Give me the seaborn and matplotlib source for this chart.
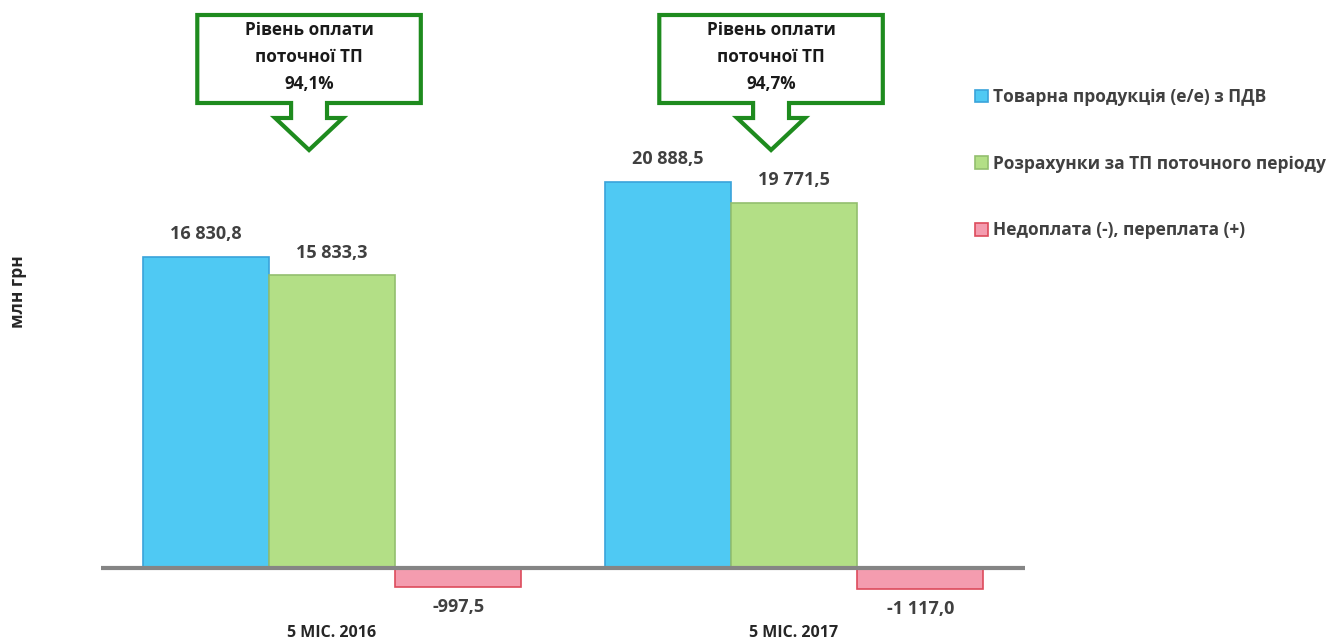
import pandas as pd
import numpy as np
import matplotlib.pyplot as plt
import seaborn as sns
from matplotlib.patches import Polygon, Patch
from matplotlib.transforms import blended_transform_factory

## Data
periods = ['5 МІС. 2016', '5 МІС. 2017']
series = ['Товарна продукція (е/е) з ПДВ',
          'Розрахунки за ТП поточного періоду',
          'Недоплата (-), переплата (+)']
commodity = [16830.8, 20888.5]
payments = [15833.3, 19771.5]
balance = [-997.5, -1117.0]
pay_level = ['94,1%', '94,7%']

colors = ['#4FC9F3', '#B3DF86', '#F49CAF']
edges = ['#3AA3DA', '#93BF6E', '#DD4B5C']
txt = '#404040'

sns.set_style('white')
plt.rcParams['font.family'] = ['Open Sans', 'DejaVu Sans']

df = pd.DataFrame({
    'period': periods * 3,
    'series': [series[0]] * 2 + [series[1]] * 2 + [series[2]] * 2,
    'value': commodity + payments + balance,
})

W, H = 1333, 642
fig = plt.figure(figsize=(W / 100, H / 100), dpi=100)
ax = fig.add_axes([101 / W, 1 - 618 / H, 924 / W, 598 / H])

sns.barplot(data=df, x='period', y='value', hue='series', hue_order=series,
            palette=colors, saturation=1, width=0.82, ax=ax, legend=False,
            linewidth=1.2)

def fmt(v):
    return f'{v:,.1f}'.replace(',', ' ').replace('.', ',')

for i, cont in enumerate(ax.containers):
    for bar in cont:
        bar.set_edgecolor(edges[i])
    vals = [commodity, payments, balance][i]
    ax.bar_label(cont, labels=[fmt(v) for v in vals], padding=10 if i < 2 else 8,
                 fontsize=13, fontweight='bold', color=txt)

ax.set_xlim(-0.5, 1.5)
ax.set_ylim(-2700, 29650)
ax.axhline(0, color='#858585', lw=3, zorder=5)
sns.despine(ax=ax, left=True, bottom=True)
ax.set_yticks([])
ax.tick_params(axis='x', length=0, pad=5)
ax.set_xticks(range(len(periods)))
ax.set_xticklabels(periods, fontsize=11.5, fontweight='bold', color='#262626')
ax.set_xlabel('')
ax.set_ylabel('')
fig.text(18 / W, 1 - 292 / H, 'млн грн', rotation=90, ha='center', va='center',
         fontsize=12.5, fontweight='bold', color='#262626')

## Callouts
tr = blended_transform_factory(ax.transData, fig.transFigure)
px = 1 / 463.0  # data units per pixel on x
shape = [(-112, 15), (112, 15), (112, 103), (18, 103), (18, 118), (34, 118),
         (0, 150), (-34, 118), (-18, 118), (-18, 103), (-112, 103)]
for i, lvl in enumerate(pay_level):
    cx = i - 23 * px
    pts = [(cx + x * px, 1 - y / H) for x, y in shape]
    fig.patches.append(Polygon(pts, closed=True, transform=tr, facecolor='white',
                               edgecolor='#1E8B1E', lw=3, joinstyle='miter'))
    fig.text(cx, 1 - 57 / H, f'Рівень оплати\nпоточної ТП\n{lvl}', transform=tr,
             ha='center', va='center', fontsize=12.3, fontweight='bold',
             color='#1a1a1a', linespacing=1.65)

## Legend
handles = [Patch(facecolor=c, edgecolor=e, lw=1.2) for c, e in zip(colors, edges)]
fig.legend(handles, series, loc='upper left', bbox_to_anchor=(975 / W, 1 - 88 / H),
           frameon=False, prop={'weight': 'bold', 'size': 12.5}, labelcolor=txt,
           handlelength=0.75, handleheight=0.75, handletextpad=0.3,
           labelspacing=2.8, borderpad=0, borderaxespad=0)

fig.savefig('out.png', dpi=100)
